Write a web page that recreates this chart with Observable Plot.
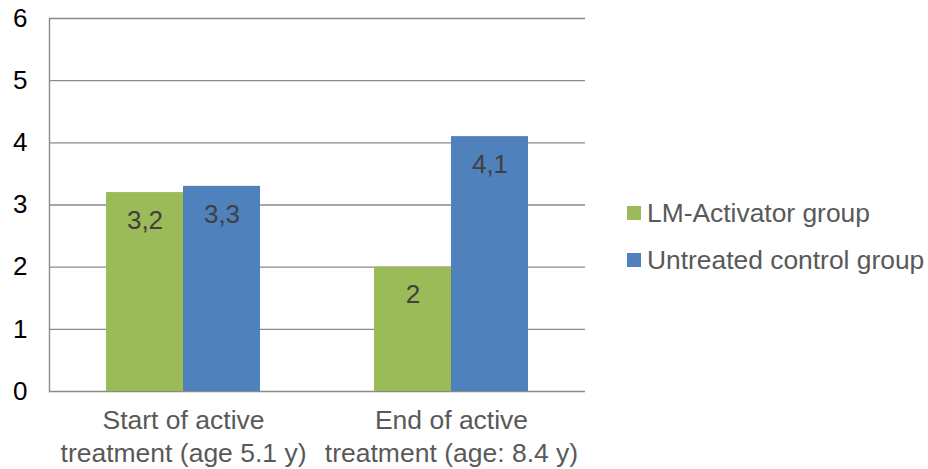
<!DOCTYPE html>
<html>
<head>
<meta charset="utf-8">
<script src="https://cdn.jsdelivr.net/npm/d3@7"></script>
<script src="https://cdn.jsdelivr.net/npm/@observablehq/plot@0.6"></script>
<style>
  html, body { margin: 0; padding: 0; background: #fff; }
  #wrap { position: relative; width: 928px; height: 469px; font-family: "Liberation Sans", Arial, sans-serif; }
  #legend { position: absolute; left: 627px; top: 196px; color: #595959; font-size: 26.4px; }
  #legend .item { display: flex; align-items: center; height: 34px; margin-bottom: 13px; white-space: nowrap; }
  #legend .sw { width: 14px; height: 14px; margin-right: 6px; display: inline-block; }
</style>
</head>
<body>
<div id="wrap"><div id="legend"></div></div>
<script>
const categories = ["Start of active\ntreatment (age 5.1 y)", "End of active\ntreatment (age: 8.4 y)"];
const groups = ["LM-Activator group", "Untreated control group"];
const lmValues = [3.2, 2];
const controlValues = [3.3, 4.1];
const lmLabels = ["3,2", "2"];
const controlLabels = ["3,3", "4,1"];
const yTicks = [0, 1, 2, 3, 4, 5, 6];
const colors = ["#9BBB59", "#4F81BD"];

const data = [];
categories.forEach((c, i) => {
  data.push({category: c, group: groups[0], value: lmValues[i], label: lmLabels[i]});
  data.push({category: c, group: groups[1], value: controlValues[i], label: controlLabels[i]});
});

const chart = Plot.plot({
  width: 928,
  height: 469,
  marginLeft: 49,
  marginRight: 343,
  marginTop: 18,
  marginBottom: 78,
  style: {fontFamily: "'Liberation Sans', Arial, sans-serif", background: "transparent"},
  fx: {domain: categories, padding: 0, label: null},
  x: {domain: groups, paddingInner: 0, paddingOuter: 0.73, axis: null},
  y: {domain: [0, 6], label: null},
  color: {domain: groups, range: colors},
  marks: [
    Plot.ruleY(yTicks, {stroke: "#8a8a8a", strokeWidth: 1.4}),
    Plot.barY(data, {fx: "category", x: "group", y: "value", fill: "group"}),
    Plot.text(data, {fx: "category", x: "group", y: "value", text: "label", dy: 28, fill: "#404040", fontSize: 26}),
    Plot.frame({anchor: "left", facetAnchor: "left", stroke: "#8a8a8a", strokeWidth: 1.4}),
    Plot.axisY(yTicks, {tickSize: 0, tickPadding: 22, fontSize: 26, fill: "#000", label: null, tickFormat: d => String(d)}),
    Plot.axisFx({anchor: "bottom", tickSize: 0, tickPadding: 14, fontSize: 26.5, fill: "#595959", lineHeight: 1.25, label: null})
  ]
});
document.getElementById("wrap").prepend(chart);

const legend = document.getElementById("legend");
groups.forEach((g, i) => {
  const item = document.createElement("div");
  item.className = "item";
  const sw = document.createElement("span");
  sw.className = "sw";
  sw.style.background = colors[i];
  item.appendChild(sw);
  item.appendChild(document.createTextNode(g));
  legend.appendChild(item);
});
</script>
</body>
</html>
